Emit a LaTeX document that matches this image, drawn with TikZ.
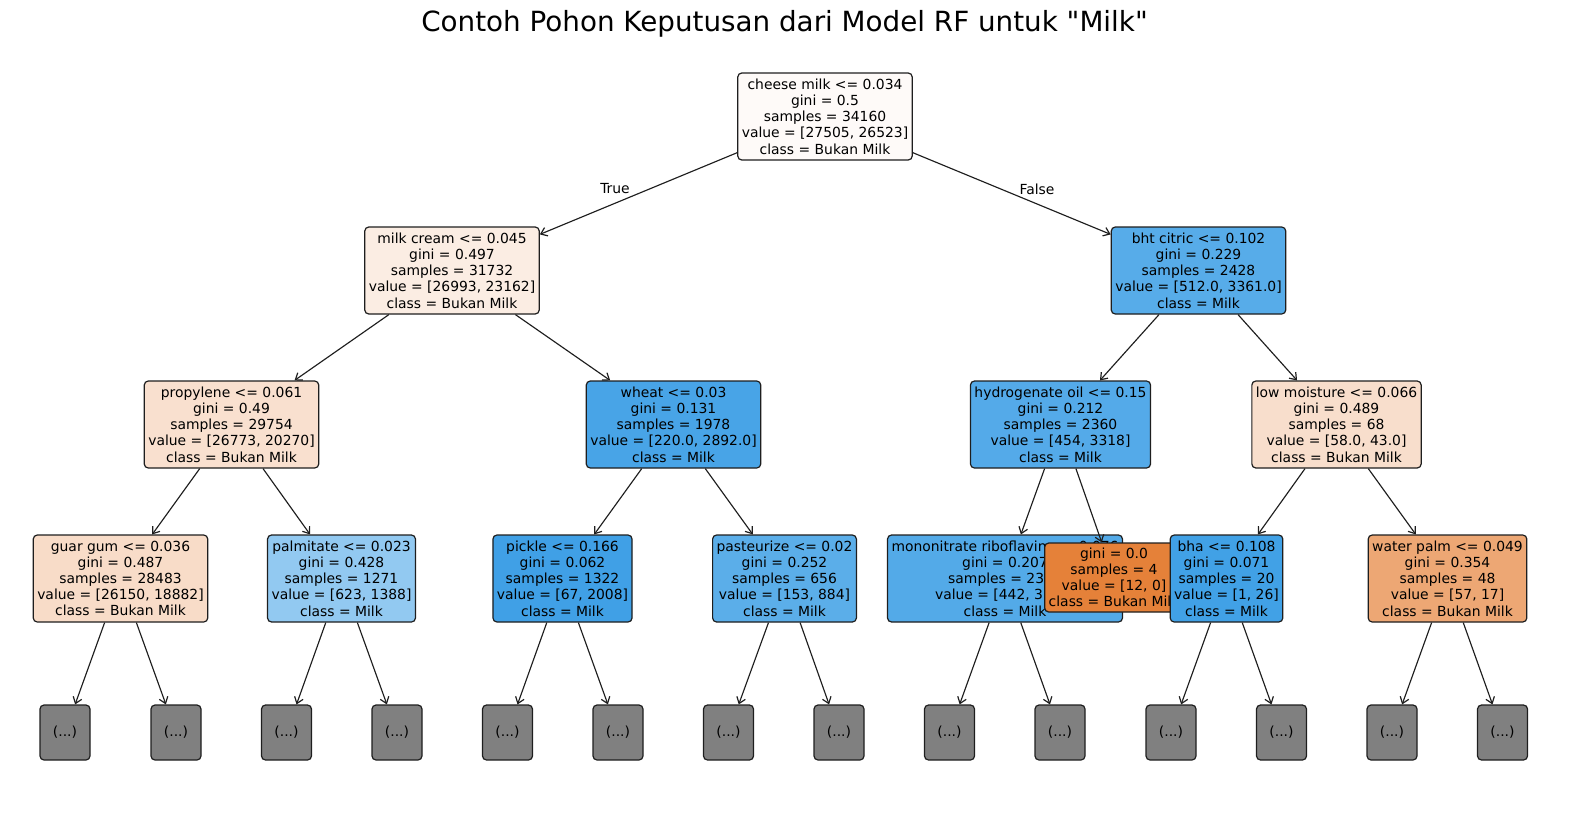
\documentclass[tikz,border=0pt]{standalone}
\usepackage{fontspec}
\setmainfont{DejaVu Sans}[Ligatures=TeXOff]
\usetikzlibrary{arrows.meta}
\definecolor{cRoot}{RGB}{254,250,248}
\definecolor{cMC}{RGB}{251,237,227}
\definecolor{cProp}{RGB}{249,224,207}
\definecolor{cGuar}{RGB}{248,220,200}
\definecolor{cLowm}{RGB}{248,222,204}
\definecolor{cWater}{RGB}{237,167,116}
\definecolor{cOrange}{RGB}{229,129,57}
\definecolor{cBht}{RGB}{87,172,233}
\definecolor{cWheat}{RGB}{72,164,231}
\definecolor{cHyd}{RGB}{84,170,233}
\definecolor{cPalm}{RGB}{146,201,241}
\definecolor{cPickle}{RGB}{64,160,230}
\definecolor{cPast}{RGB}{91,174,233}
\definecolor{cMono}{RGB}{83,170,232}
\definecolor{cBha}{RGB}{65,161,230}
\definecolor{cGrey}{RGB}{128,128,128}
\definecolor{cEdge}{RGB}{30,30,30}
\tikzset{
  tnode/.style={draw=cEdge, rounded corners=4pt, line width=1.2pt, align=center,
    font=\fontsize{13.89}{16.2}\selectfont, inner xsep=4pt, inner ysep=3pt, minimum height=87pt},
  gleaf/.style={draw=cEdge, fill=cGrey, rounded corners=4pt, line width=1.2pt,
    font=\fontsize{13.89}{16.2}\selectfont, minimum width=50pt, minimum height=55pt, inner sep=0pt},
  tedge/.style={-{Straight Barb[length=6pt,width=9pt,line width=1.2pt]}, line width=1.15pt, cEdge},
  elabel/.style={font=\fontsize{13.89}{16.2}\selectfont}
}
\begin{document}
\begin{tikzpicture}[x=1pt,y=-1pt]
\useasboundingbox (0,0) rectangle (1570,820);
\node[font=\fontsize{27.78}{33}\selectfont, anchor=base] (title) at (784.5,31) {Contoh Pohon Keputusan dari Model RF untuk "Milk"};

\node[tnode, fill=cRoot] (root) at (825,116.5) {cheese milk <= 0.034\\gini = 0.5\\samples = 34160\\value = [27505, 26523]\\class = Bukan Milk};
\node[tnode, fill=cMC] (mc) at (452,270.5) {milk cream <= 0.045\\gini = 0.497\\samples = 31732\\value = [26993, 23162]\\class = Bukan Milk};
\node[tnode, fill=cBht] (bht) at (1198.5,270.5) {bht citric <= 0.102\\gini = 0.229\\samples = 2428\\value = [512.0, 3361.0]\\class = Milk};
\node[tnode, fill=cProp] (prop) at (231.5,424.5) {propylene <= 0.061\\gini = 0.49\\samples = 29754\\value = [26773, 20270]\\class = Bukan Milk};
\node[tnode, fill=cWheat] (wheat) at (673.5,424.5) {wheat <= 0.03\\gini = 0.131\\samples = 1978\\value = [220.0, 2892.0]\\class = Milk};
\node[tnode, fill=cHyd] (hyd) at (1060.5,424.5) {hydrogenate oil <= 0.15\\gini = 0.212\\samples = 2360\\value = [454, 3318]\\class = Milk};
\node[tnode, fill=cLowm] (lowm) at (1336.5,424.5) {low moisture <= 0.066\\gini = 0.489\\samples = 68\\value = [58.0, 43.0]\\class = Bukan Milk};
\node[tnode, fill=cGuar] (guar) at (120.5,578.5) {guar gum <= 0.036\\gini = 0.487\\samples = 28483\\value = [26150, 18882]\\class = Bukan Milk};
\node[tnode, fill=cPalm] (palm) at (341.5,578.5) {palmitate <= 0.023\\gini = 0.428\\samples = 1271\\value = [623, 1388]\\class = Milk};
\node[tnode, fill=cPickle] (pickle) at (562.5,578.5) {pickle <= 0.166\\gini = 0.062\\samples = 1322\\value = [67, 2008]\\class = Milk};
\node[tnode, fill=cPast] (past) at (784.5,578.5) {pasteurize <= 0.02\\gini = 0.252\\samples = 656\\value = [153, 884]\\class = Milk};
\node[tnode, fill=cMono] (mono) at (1005,578.5) {mononitrate riboflavin <= 0.076\\gini = 0.207\\samples = 2356\\value = [442, 3318]\\class = Milk};
\node[tnode, fill=cOrange, minimum height=69pt] (leafo) at (1114,577.5) {gini = 0.0\\samples = 4\\value = [12, 0]\\class = Bukan Milk};
\node[tnode, fill=cBha] (bha) at (1226.5,578.5) {bha <= 0.108\\gini = 0.071\\samples = 20\\value = [1, 26]\\class = Milk};
\node[tnode, fill=cWater] (water) at (1447.5,578.5) {water palm <= 0.049\\gini = 0.354\\samples = 48\\value = [57, 17]\\class = Bukan Milk};

\node[gleaf] (g1) at (65,732.5) {(...)};
\node[gleaf] (g2) at (176,732.5) {(...)};
\node[gleaf] (g3) at (286.5,732.5) {(...)};
\node[gleaf] (g4) at (397,732.5) {(...)};
\node[gleaf] (g5) at (507.5,732.5) {(...)};
\node[gleaf] (g6) at (618,732.5) {(...)};
\node[gleaf] (g7) at (728.5,732.5) {(...)};
\node[gleaf] (g8) at (839,732.5) {(...)};
\node[gleaf] (g9) at (949.5,732.5) {(...)};
\node[gleaf] (g10) at (1060,732.5) {(...)};
\node[gleaf] (g11) at (1171,732.5) {(...)};
\node[gleaf] (g12) at (1281.5,732.5) {(...)};
\node[gleaf] (g13) at (1392,732.5) {(...)};
\node[gleaf] (g14) at (1502.5,732.5) {(...)};

\draw[tedge] (root) -- (mc);
\draw[tedge] (root) -- (bht);
\draw[tedge] (mc) -- (prop);
\draw[tedge] (mc) -- (wheat);
\draw[tedge] (bht) -- (hyd);
\draw[tedge] (bht) -- (lowm);
\draw[tedge] (prop) -- (guar);
\draw[tedge] (prop) -- (palm);
\draw[tedge] (wheat) -- (pickle);
\draw[tedge] (wheat) -- (past);
\draw[tedge] (hyd) -- (mono);
\draw[tedge] (hyd) -- (leafo);
\draw[tedge] (lowm) -- (bha);
\draw[tedge] (lowm) -- (water);
\draw[tedge] (guar) -- (g1);
\draw[tedge] (guar) -- (g2);
\draw[tedge] (palm) -- (g3);
\draw[tedge] (palm) -- (g4);
\draw[tedge] (pickle) -- (g5);
\draw[tedge] (pickle) -- (g6);
\draw[tedge] (past) -- (g7);
\draw[tedge] (past) -- (g8);
\draw[tedge] (mono) -- (g9);
\draw[tedge] (mono) -- (g10);
\draw[tedge] (bha) -- (g11);
\draw[tedge] (bha) -- (g12);
\draw[tedge] (water) -- (g13);
\draw[tedge] (water) -- (g14);

\node[elabel, fill=white, inner sep=1pt] (ltrue) at (615,189) {True};
\node[elabel, fill=white, inner sep=1pt] (lfalse) at (1037,189) {False};
\end{tikzpicture}
\end{document}
